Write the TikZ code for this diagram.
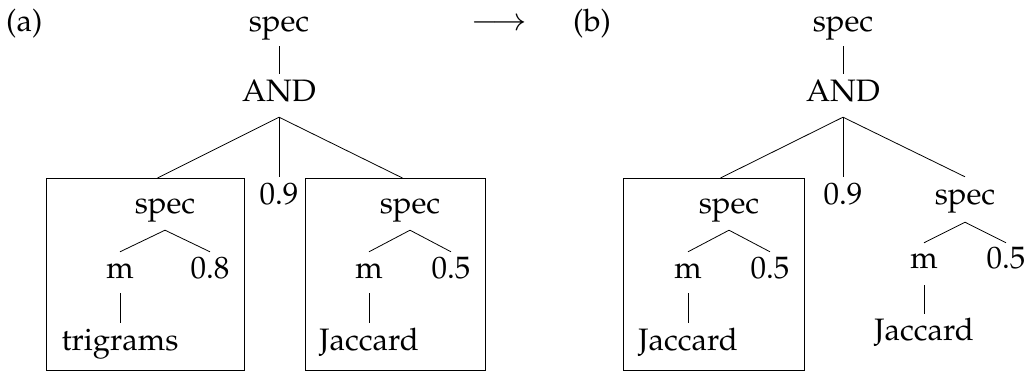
\documentclass[tikz,border=0pt]{standalone}
\usepackage[T1]{fontenc}
\usepackage{mathpazo}
\begin{document}
\begin{tikzpicture}[x=1pt,y=-1pt,
  lbl/.style={anchor=base, inner sep=0pt, text height=21pt, text depth=7pt,
              font=\fontsize{31}{36}\selectfont},
  tag/.style={anchor=base west, inner sep=0pt, font=\fontsize{31}{36}\selectfont},
  branch/.style={line width=0.8pt},
  frame/.style={draw, line width=0.9pt, anchor=north west, inner sep=0pt,
                minimum height=192pt}]
\useasboundingbox (0,0) rectangle (1030,371);

% ---------- panel (a) ----------
\node[tag] (labA) at (6,32) {(a)};
\node[lbl] (specA) at (279,32) {spec};
\node[lbl] (andA) at (279,102) {AND};
\node[lbl] (nineA) at (279,205) {0.9};
\node[frame, minimum width=198pt] (boxAL) at (46,178) {};
\node[frame, minimum width=180pt] (boxAR) at (305,178) {};

\node[lbl] (sAL) at (165,214) {spec};
\node[lbl] (mAL) at (120,278) {m};
\node[lbl] (vAL) at (210,278) {0.8};
\node[lbl] (tAL) at (120,350) {trigrams};

\node[lbl] (sAR) at (410,214) {spec};
\node[lbl] (mAR) at (369,278) {m};
\node[lbl] (vAR) at (451,278) {0.5};
\node[lbl] (jAR) at (369,350) {Jaccard};

\draw[branch] ([yshift=-7pt]specA.south) -- ([yshift=7pt]andA.north);
\draw[branch] ([yshift=-8pt]andA.south) -- ([xshift=12pt]boxAL.north);
\draw[branch] ([yshift=-8pt]andA.south) -- ([yshift=7pt]nineA.north);
\draw[branch] ([yshift=-8pt]andA.south) -- ([xshift=7pt]boxAR.north);
\draw[branch] ([yshift=-9pt]sAL.south) -- ([yshift=5pt]mAL.north);
\draw[branch] ([yshift=-9pt]sAL.south) -- ([yshift=5pt]vAL.north);
\draw[branch] ([yshift=-8pt]mAL.south) -- ([yshift=6pt]tAL.north);
\draw[branch] ([yshift=-9pt]sAR.south) -- ([yshift=5pt]mAR.north);
\draw[branch] ([yshift=-9pt]sAR.south) -- ([yshift=5pt]vAR.north);
\draw[branch] ([yshift=-8pt]mAR.south) -- ([yshift=6pt]jAR.north);

% ---------- rewrite arrow ----------
\node[lbl, text height=, text depth=, xscale=1.06] (arr) at (499,31) {$\longrightarrow$};

% ---------- panel (b) ----------
\node[tag] (labB) at (573,32) {(b)};
\node[lbl] (specB) at (843,32) {spec};
\node[lbl] (andB) at (843,102) {AND};
\node[lbl] (nineB) at (843,205) {0.9};
\node[frame, minimum width=181pt] (boxBL) at (623,178) {};

\node[lbl] (sBL) at (729,214) {spec};
\node[lbl] (mBL) at (688,278) {m};
\node[lbl] (vBL) at (770,278) {0.5};
\node[lbl] (jBL) at (688,350) {Jaccard};

\node[lbl] (sBR) at (965,205) {spec};
\node[lbl] (mBR) at (924,269) {m};
\node[lbl] (vBR) at (1006,269) {0.5};
\node[lbl] (jBR) at (924,340) {Jaccard};

\draw[branch] ([yshift=-7pt]specB.south) -- ([yshift=7pt]andB.north);
\draw[branch] ([yshift=-8pt]andB.south) -- ([xshift=6.5pt]boxBL.north);
\draw[branch] ([yshift=-8pt]andB.south) -- ([yshift=7pt]nineB.north);
\draw[branch] ([yshift=-8pt]andB.south) -- ([yshift=7pt]sBR.north);
\draw[branch] ([yshift=-9pt]sBL.south) -- ([yshift=5pt]mBL.north);
\draw[branch] ([yshift=-9pt]sBL.south) -- ([yshift=5pt]vBL.north);
\draw[branch] ([yshift=-8pt]mBL.south) -- ([yshift=6pt]jBL.north);
\draw[branch] ([yshift=-10pt]sBR.south) -- ([yshift=5pt]mBR.north);
\draw[branch] ([yshift=-10pt]sBR.south) -- ([yshift=5pt]vBR.north);
\draw[branch] ([yshift=-9pt]mBR.south) -- ([yshift=5pt]jBR.north);
\end{tikzpicture}
\end{document}
